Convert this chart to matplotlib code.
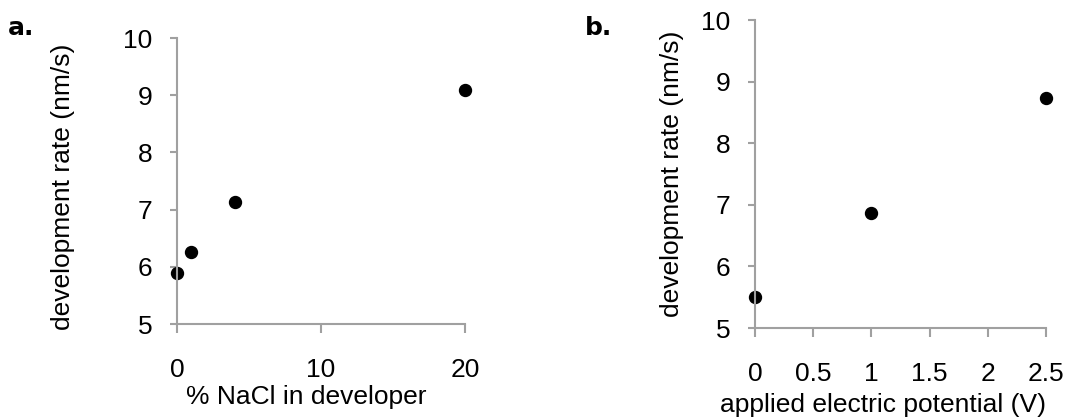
import matplotlib
matplotlib.use("Agg")
import matplotlib.pyplot as plt

# ---- data ----
nacl_pct = [0, 1, 4, 20]
nacl_rate = [5.89, 6.26, 7.14, 9.09]

potential_v = [0, 1, 2.5]
potential_rate = [5.50, 6.86, 8.73]

a_xticks = [0, 10, 20]
b_xticks = [0, 0.5, 1, 1.5, 2, 2.5]
b_xticklabels = ["0", "0.5", "1", "1.5", "2", "2.5"]
yticks = [5, 6, 7, 8, 9, 10]

ylabel = "development rate (nm/s)"
a_xlabel = "% NaCl in developer"
b_xlabel = "applied electric potential (V)"

plt.rcParams['font.family'] = ['Liberation Sans', 'DejaVu Sans']
FS = 19
GRAY = '#a0a0a0'

W, H = 1068, 419
fig = plt.figure(figsize=(W / 100, H / 100), dpi=100)


def px_axes(left, right, top, bottom):
    return fig.add_axes([left / W, 1 - bottom / H, (right - left) / W, (bottom - top) / H])


def style(ax):
    for s in ['top', 'right']:
        ax.spines[s].set_visible(False)
    for s in ['left', 'bottom']:
        ax.spines[s].set_color(GRAY)
        ax.spines[s].set_linewidth(1.5)
    ax.tick_params(axis='y', direction='out', length=5.2, width=1.5, color=GRAY,
                   labelsize=FS, pad=12.5, labelcolor='black')
    ax.tick_params(axis='x', direction='out', length=6.5, width=1.5, color=GRAY,
                   labelsize=FS, pad=18, labelcolor='black')
    ax.set_yticks(yticks)
    ax.set_ylim(5, 10)


# panel a
axa = px_axes(177, 465, 38, 324)
axa.plot(nacl_pct, nacl_rate, 'o', color='black', markersize=8.6, clip_on=False)
axa.set_xlim(0, 20)
axa.set_xticks(a_xticks)
style(axa)
axa.set_ylabel(ylabel, fontsize=FS, va='center')
axa.yaxis.set_label_coords(-0.396, 0.479)
axa.set_xlabel(a_xlabel, fontsize=FS, va='center')
axa.xaxis.set_label_coords(0.448, -0.255)

# panel b
axb = px_axes(755, 1046, 20, 328)
axb.plot(potential_v, potential_rate, 'o', color='black', markersize=8.6, clip_on=False)
axb.set_xlim(0, 2.5)
axb.set_xticks(b_xticks)
axb.set_xticklabels(b_xticklabels)
style(axb)
axb.set_ylabel(ylabel, fontsize=FS, va='center')
axb.yaxis.set_label_coords(-0.285, 0.5)
axb.set_xlabel(b_xlabel, fontsize=FS, va='center')
axb.xaxis.set_label_coords(0.44, -0.25)

# panel letters
fig.text(8 / W, 1 - 35 / H, "a.", fontsize=18, fontweight='bold',
         family='DejaVu Sans', va='baseline', ha='left')
fig.text(585 / W, 1 - 35 / H, "b.", fontsize=18, fontweight='bold',
         family='DejaVu Sans', va='baseline', ha='left')

fig.savefig("out.png", dpi=100)
